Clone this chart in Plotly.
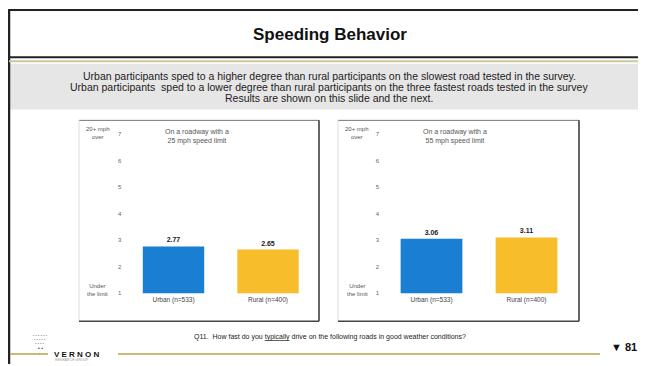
import plotly.graph_objects as go

# ---- data ----
categories_25 = ["Urban (n=533)", "Rural (n=400)"]
values_25 = [2.77, 2.65]
labels_25 = ["2.77", "2.65"]

categories_55 = ["Urban (n=533)", "Rural (n=400)"]
values_55 = [3.06, 3.11]
labels_55 = ["3.06", "3.11"]

bar_colors = ["#1a7fd2", "#f8bd2b"]
tick_vals = [1, 2, 3, 4, 5, 6, 7]
tick_text = ["1", "2", "3", "4", "5", "6", "7"]
axis_base = 1

title_text = "Speeding Behavior"
band_lines = [
    "Urban participants sped to a higher degree than rural participants on the slowest road tested in the survey.",
    "Urban participants  sped to a lower degree than rural participants on the three fastest roads tested in the survey",
    "Results are shown on this slide and the next.",
]
subtitles = ["On a roadway with a<br>25 mph speed limit", "On a roadway with a<br>55 mph speed limit"]
question = "Q11.  How fast do you <u>typically</u> drive on the following roads in good weather conditions?"

# the page body has an 8px margin; the figure fills the rest of the window
PAGE_W, PAGE_H = 646, 366
OFF = 8
W, H = PAGE_W - OFF, PAGE_H - OFF
FONT = "Liberation Sans"

def px_x(x):
    return (x - OFF) / W

def px_y(y):
    return 1 - (y - OFF) / H

fig = go.Figure()

for i, (cats, vals, labs) in enumerate([(categories_25, values_25, labels_25),
                                         (categories_55, values_55, labels_55)]):
    xa = "x" if i == 0 else "x2"
    ya = "y" if i == 0 else "y2"
    fig.add_trace(go.Bar(
        x=cats,
        y=[v - axis_base for v in vals],
        base=axis_base,
        text=labs,
        textposition="outside",
        textfont=dict(family=FONT, size=7, color="#222"),
        texttemplate="<b>%{text}</b>",
        cliponaxis=False,
        marker=dict(color=bar_colors, line=dict(width=0)),
        xaxis=xa, yaxis=ya,
        showlegend=False,
        hoverinfo="skip",
    ))

yrange = [0.95, 7.2]
ydom = [px_y(296.3), px_y(129.6)]
axis_common_y = dict(range=yrange, tickvals=tick_vals, ticktext=tick_text,
                     showgrid=False, zeroline=False, showline=False,
                     tickfont=dict(family=FONT, size=6, color="#666"),
                     ticks="", ticklabelstandoff=4)
axis_common_x = dict(showgrid=False, zeroline=False, showline=False, ticks="",
                     tickfont=dict(family=FONT, size=6.5, color="#444"),
                     range=[-0.5, 1.5])

fig.update_layout(
    width=W, height=H,
    margin=dict(l=0, r=0, t=0, b=0),
    paper_bgcolor="white", plot_bgcolor="rgba(0,0,0,0)",
    bargap=0.35,
    xaxis=dict(domain=[px_x(126.25), px_x(315.25)], anchor="y", **axis_common_x),
    yaxis=dict(domain=ydom, anchor="x", **axis_common_y),
    xaxis2=dict(domain=[px_x(384), px_x(574)], anchor="y2", **axis_common_x),
    yaxis2=dict(domain=ydom, anchor="x2", **axis_common_y),
    font=dict(family=FONT),
)

def hline(x0, x1, y, color, width):
    return dict(type="line", xref="paper", yref="paper", x0=px_x(x0), x1=px_x(x1),
                y0=px_y(y), y1=px_y(y), line=dict(color=color, width=width))

def vline(x, y0, y1, color, width):
    return dict(type="line", xref="paper", yref="paper", x0=px_x(x), x1=px_x(x),
                y0=px_y(y0), y1=px_y(y1), line=dict(color=color, width=width))

shapes = []
# gray band
shapes.append(dict(type="rect", xref="paper", yref="paper", x0=px_x(9), x1=1,
                   y0=px_y(110), y1=px_y(64), fillcolor="#e6e6e6", line=dict(width=0), layer="below"))
# frame lines
shapes.append(hline(8, PAGE_W, 10, "#222", 2))
shapes.append(vline(9, 10, PAGE_H, "#222", 2.5))
shapes.append(hline(8, PAGE_W, 57.5, "#222", 2))
shapes.append(hline(9, PAGE_W, 61.5, "#c8c89a", 2))
# panels
for (x0, x1) in [(79, 319), (338, 579)]:
    shapes.append(hline(x0, x1, 121, "#777", 1))
    shapes.append(vline(x0, 121, 323, "#ddd", 1))
    shapes.append(vline(x1, 121, 323, "#333", 1.5))
    shapes.append(hline(x0, x1, 323, "#444", 1.5))
# bottom olive line
shapes.append(hline(10, 48, 356, "#b9a64a", 1.5))
shapes.append(hline(118, 600, 356, "#b9a64a", 1.5))
fig.update_layout(shapes=shapes)

ann = []
def add_text(x, y, text, size, color="#111", bold=False, xanchor="center", family=FONT):
    ann.append(dict(xref="paper", yref="paper", x=px_x(x), y=px_y(y),
                    text=("<b>%s</b>" % text) if bold else text,
                    showarrow=False, xanchor=xanchor, yanchor="middle",
                    font=dict(family=family, size=size, color=color), align="center"))

add_text(330, 35, title_text, 17, bold=True)
for k, line in enumerate(band_lines):
    add_text(329, 76 + 11.5 * k, line, 10.5, color="#222")
# subtitles
add_text(197, 137, subtitles[0], 7, color="#555")
add_text(455, 137, subtitles[1], 7, color="#555")
# axis end labels
for xc in (98, 357):
    add_text(xc, 134, "20+ mph<br>over", 6, color="#555")
    add_text(xc, 292, "Under<br>the limit", 6, color="#555")
# question
add_text(330, 339, question, 7, color="#222")
# page number
add_text(624, 349, "▼ 81", 11, bold=True)
# logo
add_text(40, 337, "• • • • • •", 4, color="#888")
add_text(40, 341, "• • • • •", 4, color="#888")
add_text(40, 345, "• • • •", 4, color="#888")
add_text(40, 350, "• •", 5, color="#333")
add_text(40, 355, "•", 4, color="#888")
add_text(52, 356, "V E R N O N", 8, bold=True, xanchor="left")
add_text(53, 362, "RESEARCH GROUP", 3.5, color="#999", xanchor="left")
fig.update_layout(annotations=ann)

fig.write_html("out.html")
